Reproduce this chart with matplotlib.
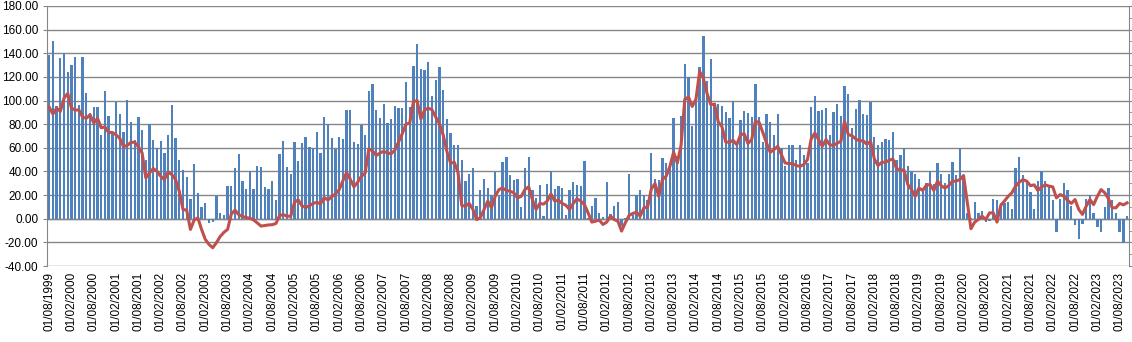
import matplotlib
matplotlib.use("Agg")
import matplotlib.pyplot as plt
import numpy as np
import pandas as pd
from matplotlib.ticker import FormatStrFormatter, MultipleLocator

# monthly values, first month = 01/08/1999
start_month = "1999-08-01"

bar_values = [
    138.6, 150.7, 95.6, 136, 140, 124.3, 130, 137, 96.5, 137,
    106.6, 89.4, 94.8, 94.8, 71, 108, 87, 72, 99, 89,
    73, 100.7, 82, 67, 86.3, 75.4, 50, 80, 67, 60,
    66, 56, 71, 96.5, 68.6, 50, 41.6, 35.7, 17, 46.7,
    22, 9.6, 13, -3.9, -2.8, 19, 4.5, 2.8, 28, 28,
    43.3, 55, 32.3, 25.6, 40, 25.6, 45, 44, 27.3, 25.6,
    32.3, 16.3, 55, 66, 44, 38.2, 65, 49, 64.4, 69.5,
    61, 60, 73.7, 56, 86.3, 80, 68.6, 59.3, 69.5, 67.8,
    92, 92, 65, 63.6, 79.6, 71, 108, 114, 92, 85.5,
    97.3, 81, 84.6, 95.6, 94, 94, 116, 94.2, 129.4, 148,
    127, 126, 132.7, 104, 117.5, 128.5, 109, 84.6, 72.8, 62,
    62, 50, 32.3, 38.2, 43.3, 10.4, 24.7, 34, 26.4, 19.7,
    39.4, 19, 48.4, 52.6, 37.4, 33.2, 34, 9.6, 43.3, 52.6,
    24, 18, 29, 2, 29.8, 40.8, 25.6, 28, 26.4, 2.8,
    24.7, 31.5, 29, 28, 49.2, 1, 10.4, 18, 5.3, 1.1,
    31.5, 3.7, 10.4, 14.6, -6.2, 0.5, 38.2, 3, 19.7, 24,
    19.7, 15.5, 56, 34, 33.2, 51, 47.5, 46, 85.5, 53.4,
    87, 131, 119.8, 78.7, 105, 128.5, 154.7, 116.7, 135, 97.6,
    97.3, 95.6, 90.5, 85.5, 99.8, 62, 83.8, 91.4, 89.4, 86.3,
    114, 86.3, 65, 88.9, 82, 71, 88.9, 60.2, 45, 62,
    62.7, 50, 62.7, 54.3, 47, 94.8, 104, 91.4, 92.2, 94,
    71, 90.5, 97.3, 87.2, 112.5, 105.7, 77, 93, 100.7, 88.9,
    88, 99, 69.5, 62.7, 65.2, 67.8, 67, 73.7, 50, 54.3,
    60, 45, 40, 38.2, 34, 24.7, 30.6, 40.8, 29.8, 47.5,
    38.2, 30, 38.2, 48.4, 37.4, 60.2, 34, 5, 1, 14.6,
    4.5, 6.2, -2.8, -2, 17, 16.3, 13, 13.5, 14.6, 8.7,
    43.3, 52.6, 37.4, 30.6, 23, 8.7, 32.3, 40.8, 32.3, 26.7,
    15.5, -11.2, 17, 30.6, 24.7, 10.7, -5.6, -17.4, -4.8, 17,
    20.5, 4.5, -7.3, -11.2, 9.6, 26.4, 15.5, 4.5, -11.2, -20.2,
    2,
]

trend_values = [
    94.5, 88.6, 93.6, 90.8, 102, 106, 93.6, 92, 92, 86,
    85, 88, 81, 85, 77, 77.6, 73, 73, 71, 68,
    61, 62, 64.7, 64.7, 61, 55.7, 34.6, 38.8, 42.5, 40.2,
    36, 33.2, 39.4, 37.4, 33.2, 23.3, 7.9, 7.3, -9, -1.1,
    0.8, -9, -17.4, -21.7, -24.5, -20.2, -15, -11.5, -9, 4,
    7.3, 3.5, 2, 1, 0.5, -1, -3.5, -6.2, -5.7, -5.2,
    -5, -4, 2.8, 3.5, 2.2, 2.2, 14, 16, 11, 9.5,
    11, 13, 14, 12.5, 18, 15.8, 18.7, 21, 24.5, 32,
    39, 33.5, 27, 31, 36, 38.5, 59, 57.5, 53.5, 55.7,
    57, 55.7, 55, 58, 65, 72, 80, 81, 99, 100,
    84.4, 92, 93.6, 92.2, 86, 80.4, 71, 57, 47, 47.8,
    39, 11.2, 10.7, 13, 7.9, -0.6, 0.8, 7.9, 15, 9.3,
    19, 24.7, 26, 24, 23.3, 22, 17.7, 19, 24.7, 27,
    16.3, 7.9, 13, 12.4, 15, 21, 15, 15.7, 13, 11.5,
    7.9, 13, 17, 15, 12, 5, -2.8, -2, -1.1, -4.8,
    -2.8, 2.2, -0.6, -2, -10.4, -3.4, 2.8, 4.5, 5.6, 2.2,
    9.3, 10, 25.3, 29.8, 19, 33.2, 36, 44.4, 56.2, 47.2,
    62, 101, 103, 95, 101, 124.6, 119, 106, 96.5, 97,
    82, 78, 65, 64.7, 66.4, 62.7, 71, 72, 63.6, 67,
    82.4, 81.6, 73, 64, 56.2, 58.5, 61.3, 54.3, 47.2, 46.7,
    46.7, 45, 44.4, 45.8, 50, 67.5, 72.6, 67, 61.3, 67,
    62.7, 62, 64, 65.5, 82.4, 71.1, 70.3, 67.5, 66, 66,
    63, 65.5, 50.6, 45, 47.8, 47.8, 49.5, 50.6, 42.2, 41.6,
    41, 29, 24.7, 19, 26, 24, 28.4, 29, 24, 31.8,
    28, 26, 28, 31.8, 31.8, 33.2, 36.6, 14, -8.4, -2.8,
    -0.6, 2.2, -0.6, 5, 5, -2.8, 11.2, 15, 19, 22,
    27.6, 31, 33.2, 31.8, 28, 28.7, 24, 27, 28.7, 27.6,
    27, 17.7, 20.5, 19, 15.5, 13, 16.3, 7.9, 3.7, 10.7,
    16.3, 12, 19, 24.7, 22, 16.9, 9.3, 9.3, 13, 11.8,
    13.5,
]

months = pd.date_range(start_month, periods=len(bar_values), freq="MS")
x = np.arange(len(bar_values))

grid_col = "#868686"
bar_col = "#4F81BD"
line_col = "#C0504D"

plt.rcParams["font.family"] = ["Liberation Sans", "DejaVu Sans"]

fig = plt.figure(figsize=(11.32, 3.42), dpi=100)
ax = fig.add_axes([0.0418, 0.222, 0.9555, 0.7605])

ax.bar(x, bar_values, width=0.62, color=bar_col, zorder=2)
ax.plot(x, trend_values, color=line_col, linewidth=2.2, zorder=3)

ax.set_xlim(-0.5, len(x) - 0.5)
ax.set_ylim(-40, 180)
ax.yaxis.set_major_locator(MultipleLocator(20))
ax.yaxis.set_minor_locator(MultipleLocator(10))
ax.yaxis.set_major_formatter(FormatStrFormatter("%.2f"))
ax.grid(axis="y", color=grid_col, linewidth=1, zorder=0)
ax.axhline(0, color=grid_col, linewidth=1, zorder=1)

# half-yearly date labels
ax.set_xticks(x[::6])
ax.set_xticklabels([m.strftime("%d/%m/%Y") for m in months[::6]], rotation=90)

for side in ["top", "bottom"]:
    ax.spines[side].set_visible(False)
for side in ["left", "right"]:
    ax.spines[side].set_color(grid_col)

ax.tick_params(axis="x", length=0, labelsize=8.5, pad=4, colors="black")
ax.tick_params(axis="y", which="major", left=True, right=True, length=3,
               color=grid_col, labelsize=8.5, labelcolor="black")
ax.tick_params(axis="y", which="minor", left=False, right=True, length=2,
               color=grid_col)

fig.savefig("out.png", dpi=100)
